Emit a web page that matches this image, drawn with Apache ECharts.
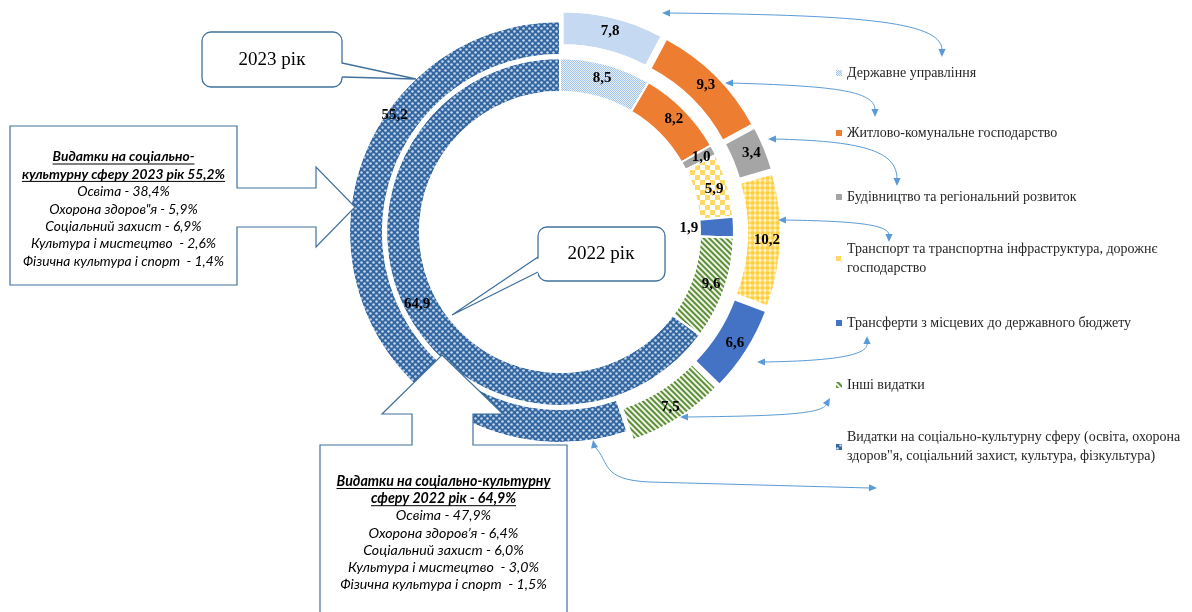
<!DOCTYPE html>
<html>
<head>
<meta charset="utf-8">
<script src="https://cdn.jsdelivr.net/npm/echarts@6/dist/echarts.min.js"></script>
<style>html,body{margin:0;padding:0;background:#fff}#chart{width:1192px;height:612px}</style>
</head>
<body>
<div id="chart"></div>
<script>
// ---------- DATA ----------
const categories = [
  'Державне управління',
  'Житлово-комунальне господарство',
  'Будівництво та регіональний розвиток',
  'Транспорт та транспортна інфраструктура, дорожнє господарство',
  'Трансферти з місцевих до державного бюджету',
  'Інші видатки',
  'Видатки на соціально-культурну сферу (освіта, охорона здоров"я, соціальний захист, культура, фізкультура)'
];
const values2022 = [8.5, 8.2, 1.0, 5.9, 1.9, 9.6, 64.9];
const values2023 = [7.8, 9.3, 3.4, 10.2, 6.6, 7.5, 55.2];
const legendText = [
  'Державне управління',
  'Житлово-комунальне господарство',
  'Будівництво та регіональний розвиток',
  'Транспорт та транспортна інфраструктура, дорожнє\nгосподарство',
  'Трансферти з місцевих до державного бюджету',
  'Інші видатки',
  'Видатки на соціально-культурну сферу (освіта, охорона\nздоров"я, соціальний захист, культура, фізкультура)'
];
const yearLabels = ['2022 рік', '2023 рік'];
const box2023Title = ['Видатки на соціально-', 'культурну сферу 2023 рік 55,2%'];
const box2023Items = ['Освіта - 38,4%', 'Охорона здоров"я - 5,9%', 'Соціальний захист - 6,9%', 'Культура і мистецтво  - 2,6%', 'Фізична культура і спорт  - 1,4%'];
const box2022Title = ['Видатки на соціально-культурну', 'сферу 2022 рік - 64,9%'];
const box2022Items = ['Освіта - 47,9%', 'Охорона здоров’я - 6,4%', 'Соціальний захист - 6,0%', 'Культура і мистецтво  - 3,0%', 'Фізична культура і спорт  - 1,5%'];

// ---------- STYLES ----------
const decalGov = {symbol:'rect', symbolSize:1, color:'rgba(255,255,255,0.75)', dashArrayX:[[1,1],[0,1,1,0]], dashArrayY:[1,0]};
const decalChecker = {symbol:'rect', symbolSize:1, color:'#ffffff', dashArrayX:[[5,5],[0,5,5,0]], dashArrayY:[5,0]};
const decalBubble = {symbol:'circle', symbolSize:0.9, color:'#FFCF3A', dashArrayX:[5,0], dashArrayY:[5,0]};
const decalStripe = {symbol:'rect', symbolSize:1, color:'rgba(255,255,255,0.9)', dashArrayX:[1,0], dashArrayY:[2,2], rotation:Math.PI/4};
const decalSocial = {symbol:'circle', symbolSize:0.85, color:'#C4D7EE', dashArrayX:[[3,3],[0,3,3,0]], dashArrayY:[3,0]};

const styles2022 = [
  {color:'#a3c4e9', decal:decalGov},
  {color:'#ED7D31'},
  {color:'#A5A5A5'},
  {color:'#FFD966', decal:decalChecker},
  {color:'#4472C4'},
  {color:'#5E8F36', decal:decalStripe},
  {color:'#34669F', decal:decalSocial}
];
const styles2023 = [
  {color:'#a3c4e9', decal:decalGov},
  {color:'#ED7D31'},
  {color:'#A5A5A5'},
  {color:'#FFF6DA', decal:decalBubble},
  {color:'#4472C4'},
  {color:'#5E8F36', decal:decalStripe},
  {color:'#34669F', decal:decalSocial}
];
const labelShift = [
  {4:[-31, 1]},
  {6:[29, -149]}
];
const legendCenters = [73, 133, 197, 259, 323, 385, 447];

function fmt(v){ return v.toFixed(1).replace('.', ','); }
function buildData(values, styles, explode){
  return values.map((v, i) => ({
    name: categories[i], value: v,
    selected: explode && i < 6,
    itemStyle: Object.assign({borderColor:'#fff', borderWidth:2}, styles[i]),
    select: {itemStyle: Object.assign({borderColor:'#fff', borderWidth:2}, styles[i])}
  }));
}
const serif = '"Liberation Serif", "Times New Roman", serif';
const labelCfg = {show:true, position:'inside', formatter:p => fmt(p.value),
  fontFamily:serif, fontWeight:'bold', fontSize:15, color:'#000'};

function shiftFn(si){ return function(p){ const s = labelShift[si][p.dataIndex]; return s ? {dx:s[0], dy:s[1]} : {}; }; }

// ---------- GRAPHICS ----------
const BLUE = '#41719C', LINE = '#5B9BD5';
const g = [];
function head(x, y, ang){
  const L = 8, W = 3.6, c = Math.cos(ang), s = Math.sin(ang);
  g.push({type:'polygon', z:120, shape:{points:[[x,y],[x-L*c+W*s, y-L*s-W*c],[x-L*c-W*s, y-L*s+W*c]]}, style:{fill:LINE}});
}
function curve(x1,y1,cx1,cy1,cx2,cy2,x2,y2){
  g.push({type:'bezierCurve', z:120, shape:{x1,y1,cpx1:cx1,cpy1:cy1,cpx2:cx2,cpy2:cy2,x2,y2}, style:{stroke:LINE, lineWidth:1, fill:null}});
}
// connectors
curve(668,13, 850,15, 942,20, 942,50); head(662,13,Math.PI); head(942,57,Math.PI/2);
curve(731,83, 830,86, 875,90, 875,110); head(725,83,Math.PI); head(875,117,Math.PI/2);
curve(774,139, 860,141, 897,150, 897,179); head(768,139,Math.PI); head(897,186,Math.PI/2);
curve(784,220, 850,221, 889,224, 889,235); head(778,220,Math.PI); head(889,242,Math.PI/2);
curve(763,362, 830,361, 869,356, 867,343); head(757,362,Math.PI); head(867,336,-Math.PI/2);
curve(686,417, 780,416, 820,414, 826,405); head(680,417,Math.PI); head(830,398,-1.04);
curve(595,447, 610,462, 600,480, 650,482);
g.push({type:'line', z:120, shape:{x1:650,y1:482,x2:870,y2:488}, style:{stroke:LINE, lineWidth:1}});
head(593,440,-Math.PI/2-0.2); head(877,488,0.03);

// callout "2023 рік"
g.push({type:'rect', z:100, shape:{x:202,y:32,width:140,height:55,r:9}, style:{fill:'#fff', stroke:BLUE, lineWidth:1.3}});
g.push({type:'polygon', z:101, shape:{points:[[339,63],[416,79],[339,77]]}, style:{fill:'#fff'}});
g.push({type:'polyline', z:102, shape:{points:[[342,63],[416,79],[342,77]]}, style:{stroke:BLUE, lineWidth:1.3, fill:null}});
// callout "2022 рік"
g.push({type:'rect', z:100, shape:{x:538,y:227,width:127,height:54,r:9}, style:{fill:'#fff', stroke:BLUE, lineWidth:1.3}});
g.push({type:'polygon', z:101, shape:{points:[[541,257],[452,315],[541,272]]}, style:{fill:'#fff'}});
g.push({type:'polyline', z:102, shape:{points:[[538,257],[452,315],[538,272]]}, style:{stroke:BLUE, lineWidth:1.3, fill:null}});
// left arrow box
g.push({type:'polygon', z:100, shape:{points:[[10,126],[237,126],[237,188],[316,188],[316,167],[355,207],[316,247],[316,227],[237,227],[237,285],[10,285]]}, style:{fill:'#fff', stroke:BLUE, lineWidth:1.2}});
// bottom up-arrow box
g.push({type:'polygon', z:100, shape:{points:[[320,620],[320,445],[412,445],[412,414],[382,414],[442,355],[503,414],[473,414],[473,445],[567,445],[567,620]]}, style:{fill:'#fff', stroke:BLUE, lineWidth:1.2}});

function txt(t, x, y, font){
  g.push({type:'text', z:130, style:{text:t, x, y, font, fill:'#000', textAlign:'center', textVerticalAlign:'middle', align:'center', verticalAlign:'middle'}});
}
txt(yearLabels[1], 272, 60, '19px ' + serif);
txt(yearLabels[0], 601, 254, '19px ' + serif);

const mctx = document.createElement('canvas').getContext('2d');
function block(title, items, cx, y0, step, size){
  const fb = 'italic bold ' + size + 'px Lato, "Open Sans", sans-serif';
  const fi = 'italic ' + size + 'px Lato, "Open Sans", sans-serif';
  title.forEach((t, i) => {
    const y = y0 + i * step;
    txt(t, cx, y, fb);
    mctx.font = fb; const w = mctx.measureText(t).width;
    g.push({type:'line', z:130, shape:{x1:cx - w/2, y1:y + 7, x2:cx + w/2, y2:y + 7}, style:{stroke:'#000', lineWidth:1}});
  });
  items.forEach((t, i) => txt(t, cx, y0 + (title.length + i) * step, fi));
}
block(box2023Title, box2023Items, 123.5, 157, 17.4, 13.8);
block(box2022Title, box2022Items, 443.5, 481.5, 17.2, 14.2);

// ---------- CHART ----------
const chart = echarts.init(document.getElementById('chart'));
chart.setOption({
  animation:false,
  backgroundColor:'#fff',
  legend: categories.map((name, i) => {
    const multi = legendText[i].indexOf('\n') >= 0;
    return {
      data:[name], orient:'vertical', left:836, top: legendCenters[i] - (multi ? 28.5 : 9.5), padding:0,
      itemWidth:6, itemHeight:6, icon:'rect', selectedMode:false,
      itemStyle:{borderWidth:0},
      formatter: () => legendText[i],
      textStyle:{fontFamily:serif, fontSize:14, color:'#262626', lineHeight:19, padding: multi ? [19,0,0,0] : 0}
    };
  }),
  series:[
    {
      name:yearLabels[0], type:'pie', center:[560,232], radius:[140,174], startAngle:90, clockwise:true,
      selectedMode:'multiple', selectedOffset:10, avoidLabelOverlap:false, emphasis:{disabled:true},
      label:labelCfg, labelLine:{show:false}, labelLayout:shiftFn(0),
      data: buildData(values2022, styles2022, false)
    },
    {
      name:yearLabels[1], type:'pie', center:[560,232], radius:[177,211], startAngle:90, clockwise:true,
      selectedMode:'multiple', selectedOffset:10, avoidLabelOverlap:false, emphasis:{disabled:true},
      label:labelCfg, labelLine:{show:false}, labelLayout:shiftFn(1),
      data: buildData(values2023, styles2023, true)
    }
  ],
  graphic: g
});
</script>
</body>
</html>
